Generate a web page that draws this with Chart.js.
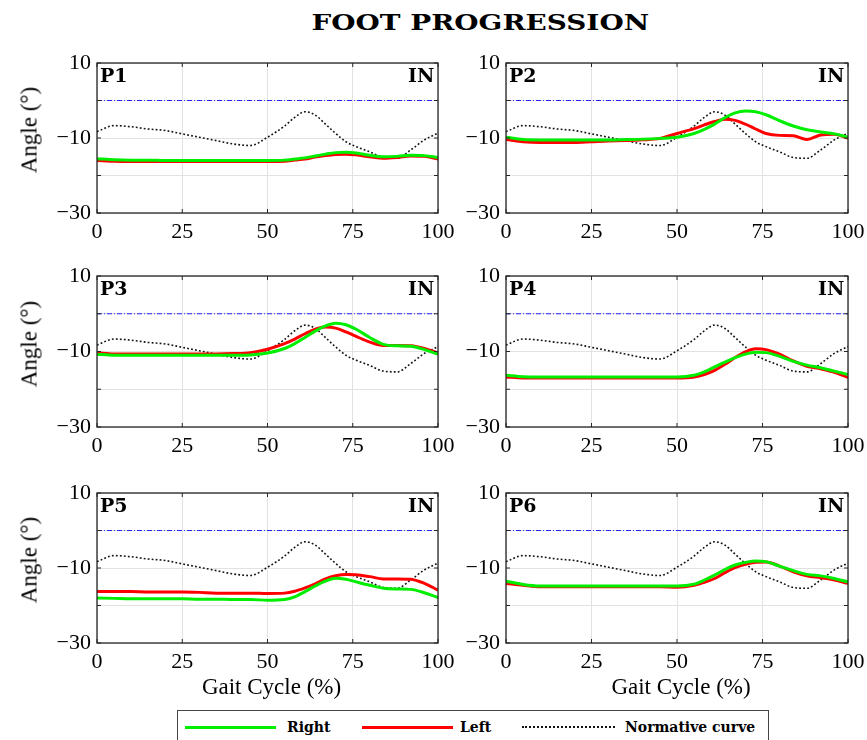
<!DOCTYPE html>
<html><head><meta charset="utf-8">
<script src="https://cdn.jsdelivr.net/npm/chart.js@4.4.0/dist/chart.umd.min.js"></script>
<style>
html,body{margin:0;padding:0;background:#fff;}
body{width:867px;height:740px;overflow:hidden;position:relative;font-family:'Liberation Serif','Times New Roman',serif;}
canvas{position:absolute;}
.t{position:absolute;white-space:nowrap;color:#000;line-height:1;}
.b{font-family:'DejaVu Serif',serif;font-weight:bold;}
</style></head><body>
<script>
// ---- data ----
const gaitX = [0,5,10,15,20,25,30,35,40,45,50,55,58,61,64,67,70,73,76,80,84,88,92,96,100];
const normative = [-8.3,-6.7,-7.0,-7.6,-8.0,-8.9,-9.8,-10.7,-11.6,-12.0,-9.8,-6.8,-4.5,-3.0,-3.9,-6.3,-8.8,-11.0,-12.3,-13.7,-15.2,-15.4,-13.2,-10.5,-8.7];
const p1Right = [-15.5,-15.8,-15.9,-15.9,-16.0,-16.0,-16.0,-16.0,-16.0,-16.0,-16.0,-15.9,-15.6,-15.3,-14.8,-14.3,-13.9,-13.8,-14.0,-14.6,-15.0,-14.9,-14.6,-14.7,-15.2];
const p1Left  = [-16.0,-16.2,-16.25,-16.25,-16.25,-16.25,-16.25,-16.25,-16.25,-16.25,-16.25,-16.2,-15.9,-15.6,-15.1,-14.7,-14.4,-14.3,-14.5,-15.0,-15.4,-15.2,-14.8,-14.9,-15.6];
const p2Right = [-9.8,-10.4,-10.5,-10.5,-10.5,-10.5,-10.5,-10.4,-10.3,-10.1,-9.8,-8.8,-7.7,-6.3,-4.6,-3.3,-2.8,-3.0,-3.8,-5.4,-6.8,-7.8,-8.4,-8.9,-9.8];
const p2Left  = [-10.4,-11.0,-11.2,-11.2,-11.2,-11.0,-10.8,-10.7,-10.5,-10.1,-8.8,-7.5,-6.5,-5.6,-5.0,-5.3,-6.3,-7.6,-8.8,-9.3,-9.4,-10.4,-9.2,-9.0,-10.1];
const p3Right = [-10.7,-11.0,-11.0,-11.0,-11.0,-11.0,-11.0,-11.0,-11.0,-10.9,-10.4,-9.2,-7.9,-6.3,-4.6,-3.2,-2.5,-2.9,-4.1,-6.3,-8.1,-8.5,-8.6,-9.5,-10.7];
const p3Left  = [-10.3,-10.65,-10.65,-10.65,-10.65,-10.65,-10.65,-10.65,-10.55,-10.3,-9.4,-7.9,-6.7,-5.3,-4.1,-3.5,-3.8,-4.8,-6.0,-7.5,-8.4,-8.4,-8.5,-9.2,-10.4];
const p4Right = [-16.3,-16.7,-16.75,-16.75,-16.75,-16.75,-16.75,-16.75,-16.75,-16.75,-16.75,-16.3,-15.4,-14.1,-12.8,-11.6,-10.7,-10.2,-10.3,-11.3,-12.6,-13.6,-14.3,-15.2,-16.1];
const p4Left  = [-16.75,-17.0,-17.0,-17.0,-17.0,-17.0,-17.0,-17.0,-17.0,-17.0,-17.0,-16.75,-16.1,-15.0,-13.4,-11.6,-10.1,-9.3,-9.5,-10.7,-12.5,-13.9,-14.6,-15.5,-16.9];
const p5Right = [-18.0,-18.1,-18.2,-18.2,-18.2,-18.2,-18.3,-18.3,-18.4,-18.4,-18.6,-18.4,-17.7,-16.3,-14.8,-13.5,-12.7,-13.0,-13.7,-14.6,-15.4,-15.6,-15.7,-16.6,-17.9];
const p5Left  = [-16.3,-16.25,-16.25,-16.4,-16.4,-16.4,-16.5,-16.7,-16.7,-16.7,-16.8,-16.7,-16.2,-15.3,-14.2,-12.9,-12.05,-11.7,-11.8,-12.3,-12.9,-12.9,-13.0,-14.1,-15.9];
const p6Right = [-13.5,-14.4,-14.8,-14.8,-14.8,-14.8,-14.8,-14.8,-14.8,-14.8,-14.8,-14.3,-13.2,-11.9,-10.4,-9.2,-8.5,-8.1,-8.3,-9.5,-10.7,-11.7,-12.1,-12.8,-13.7];
const p6Left  = [-14.1,-14.6,-15.0,-15.0,-15.0,-15.0,-15.0,-15.0,-15.0,-15.0,-15.1,-14.6,-13.8,-12.8,-11.25,-9.9,-9.0,-8.5,-8.4,-9.5,-11.0,-12.1,-12.6,-13.2,-14.1];
const panelNames = ['P1','P2','P3','P4','P5','P6'];
const rightSeries = [p1Right,p2Right,p3Right,p4Right,p5Right,p6Right];
const leftSeries  = [p1Left,p2Left,p3Left,p4Left,p5Left,p6Left];
const yLabelled = [10,-10,-30];
const zeroLine = 0;
const titleText = 'FOOT PROGRESSION';
const sideText = 'IN';
const yTitle = 'Angle (°)';
const xTitle = 'Gait Cycle (%)';
const legendLabels = ['Right','Left','Normative curve'];

// ---- layout ----
const cols=[{l:97,r:438},{l:506,r:848}];
const rows=[{t:63,b:213},{t:276,b:427},{t:493,b:643}];
const PADL=70, PADT=15, PADR=24, PADB=40;
const FONT="'Liberation Serif','Times New Roman',serif";

const frame = {
  id:'frame',
  afterDraw(chart){
    const {ctx, chartArea:a, scales:{x,y}} = chart;
    ctx.save();
    ctx.strokeStyle='#262626'; ctx.lineWidth=1.3;
    ctx.strokeRect(a.left, a.top, a.right-a.left, a.bottom-a.top);
    const L=4;
    ctx.lineWidth=1;
    ctx.beginPath();
    x.ticks.forEach(t=>{const px=x.getPixelForValue(t.value); ctx.moveTo(px,a.bottom); ctx.lineTo(px,a.bottom-L); ctx.moveTo(px,a.top); ctx.lineTo(px,a.top+L);});
    y.ticks.forEach(t=>{const py=y.getPixelForValue(t.value); ctx.moveTo(a.left,py); ctx.lineTo(a.left+L,py); ctx.moveTo(a.right,py); ctx.lineTo(a.right-L,py);});
    ctx.stroke(); ctx.restore();
  }
};

function addText(txt, cls, style){
  const d=document.createElement('div');
  d.className='t '+(cls||'');
  d.textContent=txt;
  Object.assign(d.style, style);
  document.body.appendChild(d);
  return d;
}
const pts = arr => gaitX.map((x,k)=>({x:x, y:arr[k]}));

panelNames.forEach((name,i)=>{
  const c=cols[i%2], r=rows[Math.floor(i/2)];
  const w=PADL+(c.r-c.l)+PADR, h=PADT+(r.b-r.t)+PADB;
  const cv=document.createElement('canvas');
  cv.width=w; cv.height=h;
  cv.style.left=(c.l-PADL)+'px'; cv.style.top=(r.t-PADT)+'px';
  cv.style.width=w+'px'; cv.style.height=h+'px';
  document.body.appendChild(cv);
  new Chart(cv,{
    type:'line',
    data:{datasets:[
      {data:[{x:0,y:zeroLine},{x:100,y:zeroLine}], borderColor:'#2424ff', borderWidth:1, borderDash:[5,2,1,2], pointRadius:0},
      {data:pts(rightSeries[i]), borderColor:'#00ee00', borderWidth:3, pointRadius:0, cubicInterpolationMode:'monotone'},
      {data:pts(leftSeries[i]), borderColor:'#ff0000', borderWidth:3, pointRadius:0, cubicInterpolationMode:'monotone'},
      {data:pts(normative), borderColor:'#111', borderWidth:1.6, borderDash:[1.8,2.2], pointRadius:0, cubicInterpolationMode:'monotone'}
    ]},
    options:{
      responsive:false, animation:false, devicePixelRatio:1, events:[],
      layout:{padding:{left:0,top:PADT,right:PADR,bottom:0}},
      plugins:{legend:{display:false}, tooltip:{enabled:false}},
      scales:{
        x:{type:'linear', min:0, max:100,
           ticks:{stepSize:25, autoSkip:false, maxRotation:0, padding:6, color:'#000', font:{family:FONT,size:22}},
           grid:{color:'#e2e2e2', drawTicks:false}, border:{display:false},
           afterFit(s){s.height=PADB; s.paddingLeft=0; s.paddingRight=0;}},
        y:{type:'linear', min:-30, max:10,
           ticks:{stepSize:10, padding:6, color:'#000', font:{family:FONT,size:22},
             callback:v=> yLabelled.includes(v) ? String(v).replace('-','\u2212') : ''},
           grid:{color:'#e2e2e2', drawTicks:false}, border:{display:false},
           afterFit(s){s.width=PADL; s.paddingTop=0; s.paddingBottom=0;}}
      }
    },
    plugins:[frame]
  });
  addText(name,'b',{left:(c.l+3)+'px', top:(r.t+3)+'px', fontSize:'19px'});
  const inEl=addText(sideText,'b',{top:(r.t+3)+'px', fontSize:'19px'});
  inEl.style.left=(c.r-4-inEl.offsetWidth)+'px';
  if(i%2===0){
    addText(yTitle,'',{left:'29px', top:((r.t+r.b)/2-8)+'px', fontSize:'23px', transform:'translate(-50%,-50%) rotate(-90deg)'});
  }
  if(i>=4){
    addText(xTitle,'',{left:((c.l+c.r)/2+4)+'px', top:'686px', fontSize:'23px', transform:'translate(-50%,-50%)'});
  }
});

// title
const tt=addText(titleText,'b',{top:'11px', fontSize:'22px'});
const tw=tt.offsetWidth, target=338;
tt.style.left=(480-tw/2)+'px';
tt.style.transform='scaleX('+(target/tw)+')';

// legend
const box=document.createElement('div');
Object.assign(box.style,{position:'absolute',left:'177px',top:'710px',width:'592px',height:'50px',border:'1.3px solid #444',boxSizing:'border-box'});
document.body.appendChild(box);
function legLine(x1,x2,style){
  const d=document.createElement('div');
  Object.assign(d.style,{position:'absolute',left:x1+'px',top:'726px',width:(x2-x1)+'px',height:'0px'},style);
  document.body.appendChild(d);
}
legLine(185,276,{borderTop:'3px solid #00ee00'});
legLine(362,453,{borderTop:'3px solid #ff0000'});
legLine(522,615,{borderTop:'2px dotted #111'});
addText(legendLabels[0],'b',{left:'287px',top:'720px',fontSize:'14px'});
addText(legendLabels[1],'b',{left:'460px',top:'720px',fontSize:'14px'});
addText(legendLabels[2],'b',{left:'625px',top:'720px',fontSize:'14px'});
</script>
</body></html>
